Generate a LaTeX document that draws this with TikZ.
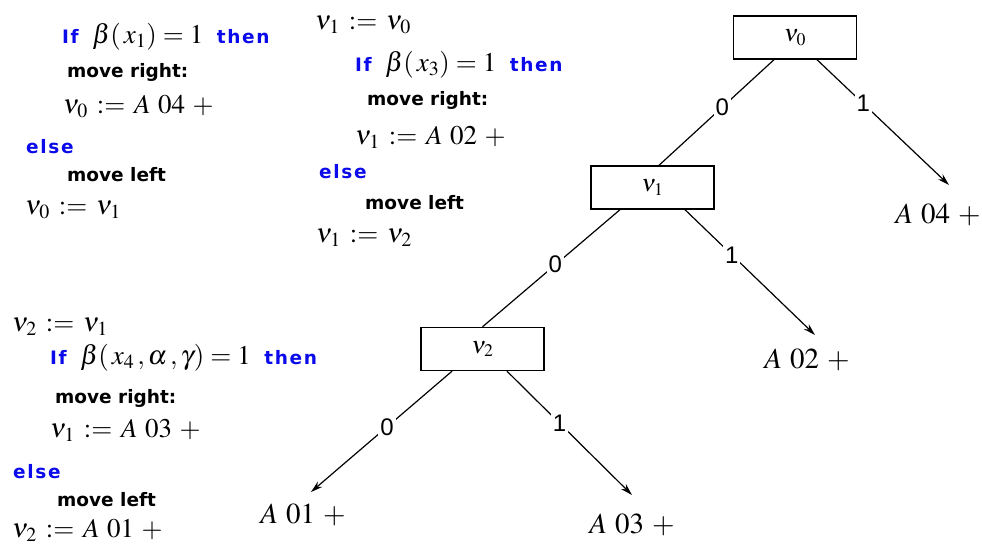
\documentclass[tikz,border=0pt]{standalone}
\usepackage{mathptmx}
\usepackage[no-math]{fontspec}
\setmainfont{Liberation Serif}
\setsansfont{DejaVu Sans}
\newfontfamily\lblfont{Liberation Sans}
\usetikzlibrary{arrows.meta,calc}
\definecolor{kwblue}{RGB}{10,10,235}
\newcommand{\kw}[1]{{\fontsize{18.5}{22}\sffamily\bfseries\addfontfeature{LetterSpace=9}\color{kwblue}#1}}
\newcommand{\cmd}[1]{{\fontsize{18.5}{22}\sffamily\bfseries #1}}
\newcommand{\asg}{\mathrel{\,:=\,}}
\newcommand{\gp}{\mkern5mu}

\begin{document}
\begin{tikzpicture}[x=1pt,y=-1pt,
    vbox/.style={draw,line width=1.4pt,minimum width=123pt,minimum height=43pt,inner sep=0pt,font=\fontsize{24}{26}\selectfont},
    leaf/.style={inner sep=0pt,font=\fontsize{29}{32}\selectfont},
    code/.style={anchor=west,inner sep=0pt,font=\fontsize{27}{30}\selectfont},
    lbl/.style={fill=white,inner sep=2pt,font=\lblfont\fontsize{24}{26}\selectfont},
    edge/.style={line width=1.2pt},
    arrow/.style={edge,-{Stealth[length=12pt,width=7pt,inset=4pt]}}]
  \useasboundingbox (0,0) rectangle (982,545);

  % decision tree
  \node[vbox] (v0) at (795,37.5) {$\nu_0$};
  \node[vbox] (v1) at (652.5,187.5) {$\nu_1$};
  \node[vbox] (v2) at (482.5,349) {$\nu_2$};
  \node[leaf] (a04) at (938,215) {$A\gp 04\gp{+}$};
  \node[leaf] (a02) at (807,360) {$A\gp 02\gp{+}$};
  \node[leaf] (a01) at (303,515) {$A\gp 01\gp{+}$};
  \node[leaf] (a03) at (632,525) {$A\gp 03\gp{+}$};

  \draw[edge] ([xshift=-21pt]v0.south) -- node[lbl,pos=0.45]{0} ([xshift=6.5pt]v1.north);
  \draw[arrow] ([xshift=22pt]v0.south) -- node[lbl,pos=0.35]{1} ([shift={(11pt,30pt)}]a04.center);
  \draw[edge] ([xshift=-32.5pt]v1.south) -- node[lbl,pos=0.47]{0} (v2.north);
  \draw[arrow] ([xshift=32.5pt]v1.south) -- node[lbl,pos=0.36]{1} ([shift={(8pt,25pt)}]a02.center);
  \draw[arrow] ([xshift=-30.5pt]v2.south) -- node[lbl,pos=0.46]{0} ([shift={(8pt,23pt)}]a01.center);
  \draw[arrow] ([xshift=24.5pt]v2.south) -- node[lbl,pos=0.42]{1} ([shift={(0pt,30pt)}]a03.center);

  % code for v0
  \node[code] (if0) at (62,37) {\kw{If}\enspace$\beta(\,x_1)=1$\enspace\kw{then}};
  \node[code] (r0) at (67,72) {\cmd{move right:}};
  \node[code] (s0) at (63,107) {$\nu_0\asg A\gp 04\gp{+}$};
  \node[code] (e0) at (26,147) {\kw{else}};
  \node[code] (l0) at (67,175) {\cmd{move left}};
  \node[code] (t0) at (25,210) {$\nu_0\asg\nu_1$};

  % code for v1
  \node[code] (p1) at (315,25) {$\nu_1\asg\nu_0$};
  \node[code] (if1) at (355,65) {\kw{If}\enspace$\beta(\,x_3)=1$\enspace\kw{then}};
  \node[code] (r1) at (367,100) {\cmd{move right:}};
  \node[code] (s1) at (355,137) {$\nu_1\asg A\gp 02\gp{+}$};
  \node[code] (e1) at (319,172) {\kw{else}};
  \node[code] (l1) at (365,203) {\cmd{move left}};
  \node[code] (t1) at (316,238) {$\nu_1\asg\nu_2$};

  % code for v2
  \node[code] (p2) at (12,327) {$\nu_2\asg\nu_1$};
  \node[code] (if2) at (50,358) {\kw{If}\enspace$\beta(\,x_4\,,\alpha\,,\gamma)=1$\enspace\kw{then}};
  \node[code] (r2) at (55,398) {\cmd{move right:}};
  \node[code] (s2) at (50,430) {$\nu_1\asg A\gp 03\gp{+}$};
  \node[code] (e2) at (13,472) {\kw{else}};
  \node[code] (l2) at (57,500) {\cmd{move left}};
  \node[code] (t2) at (12,530) {$\nu_2\asg A\gp 01\gp{+}$};
\end{tikzpicture}
\end{document}
